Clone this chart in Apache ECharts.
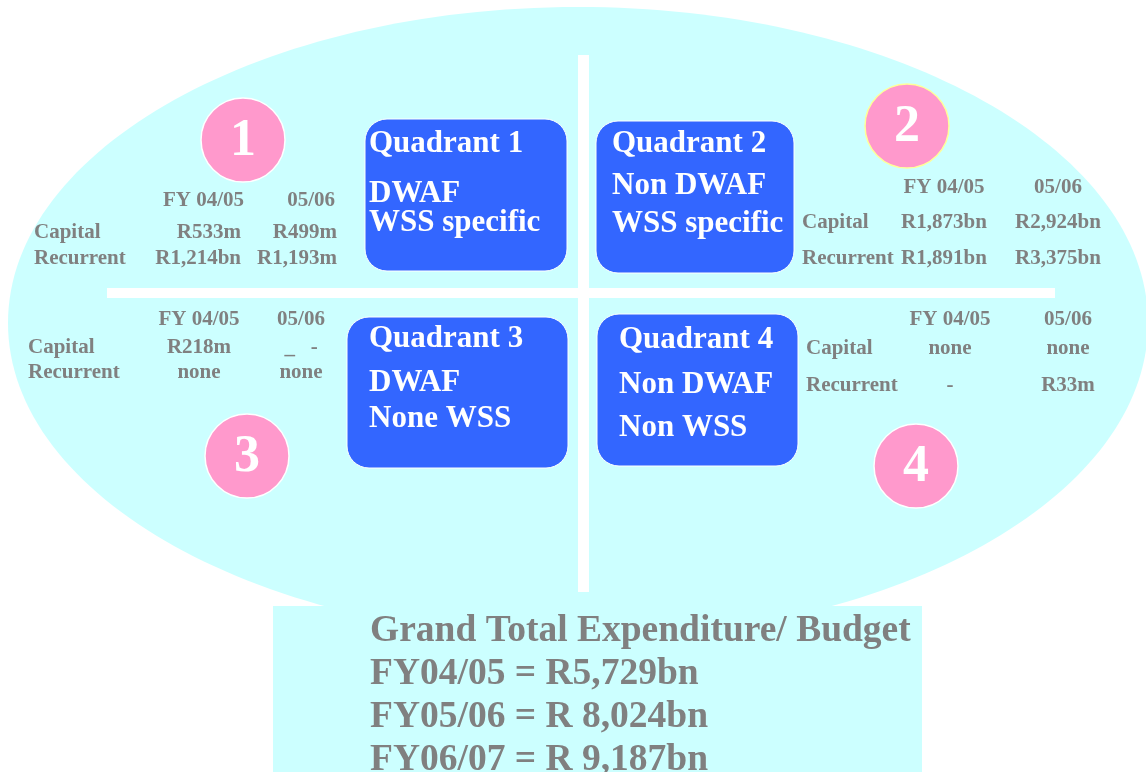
<!DOCTYPE html>
<html>
<head>
<meta charset="utf-8">
<script src="https://cdn.jsdelivr.net/npm/echarts@6/dist/echarts.min.js"></script>
<style>
  html, body { margin: 0; padding: 0; background: #fff; }
  #chart { width: 1146px; height: 772px; }
</style>
</head>
<body>
<div id="chart"></div>
<script>
// diagram content
const quadrantNumbers = ['1', '2', '3', '4']
const quadrantTitles = ['Quadrant 1', 'Quadrant 2', 'Quadrant 3', 'Quadrant 4']
const quadrantLines = [
  ['DWAF', 'WSS specific'],
  ['Non DWAF', 'WSS specific'],
  ['DWAF', 'None WSS'],
  ['Non DWAF', 'Non WSS']
]
const yearHeaders = ['FY 04/05', '05/06']
const rowNames = ['Capital', 'Recurrent']
const capitalValues = [
  ['R533m', 'R499m'],
  ['R1,873bn', 'R2,924bn'],
  ['R218m', '_   -'],
  ['none', 'none']
]
const recurrentValues = [
  ['R1,214bn', 'R1,193m'],
  ['R1,891bn', 'R3,375bn'],
  ['none', 'none'],
  ['-', 'R33m']
]
const totalTitle = 'Grand Total Expenditure/ Budget'
const totalYears = ['FY04/05', 'FY05/06', 'FY06/07']
const totalValues = ['R5,729bn', 'R 8,024bn', 'R 9,187bn']

const FONT = '"Liberation Serif", "Times New Roman", serif'
const GREY = '#808080'
const CYAN = '#ccffff'
const BLUE = '#3366ff'
const PINK = '#ff99cc'

// layout per quadrant
const circles = [
  { cx: 243, cy: 140, stroke: '#ffffff' },
  { cx: 907, cy: 126, stroke: '#ffff99' },
  { cx: 247, cy: 456, stroke: '#ffffff' },
  { cx: 916, cy: 466, stroke: '#ffffff' }
]
const boxes = [
  { x: 365, y: 119, w: 202, h: 152, tx: 369, ty: [142, 192, 221] },
  { x: 596, y: 121, w: 198, h: 152, tx: 612, ty: [142, 184, 222] },
  { x: 347, y: 317, w: 221, h: 151, tx: 369, ty: [337, 381, 417] },
  { x: 597, y: 314, w: 201, h: 152, tx: 619, ty: [338, 383, 426] }
]
const tables = [
  { lx: 34, cols: [241, 337], align: 'right', hy: 199, ry: [231, 257] },
  { lx: 802, cols: [944, 1058], align: 'center', hy: 186, ry: [221, 257] },
  { lx: 28, cols: [199, 301], align: 'center', hy: 318, ry: [346, 371] },
  { lx: 806, cols: [950, 1068], align: 'center', hy: 318, ry: [347, 384] }
]

function txt(text, x, y, size, color, align) {
  return {
    type: 'text',
    x: x,
    y: y + 2,
    z: 10,
    style: {
      text: text,
      fill: color,
      font: 'bold ' + size + 'px ' + FONT,
      textAlign: align || 'left',
      textVerticalAlign: 'middle'
    }
  }
}

const elements = []

// background ellipse
elements.push({
  type: 'ellipse',
  shape: { cx: 578, cy: 323, rx: 570, ry: 316 },
  style: { fill: CYAN },
  z: 1
})
// white cross
elements.push({ type: 'rect', shape: { x: 578, y: 55, width: 11, height: 537 }, style: { fill: '#fff' }, z: 2 })
elements.push({ type: 'rect', shape: { x: 107, y: 288, width: 948, height: 10 }, style: { fill: '#fff' }, z: 2 })
// total box
elements.push({ type: 'rect', shape: { x: 273, y: 606, width: 649, height: 170 }, style: { fill: CYAN }, z: 3 })

quadrantNumbers.forEach((n, i) => {
  const c = circles[i]
  elements.push({
    type: 'circle',
    shape: { cx: c.cx, cy: c.cy, r: 42 },
    style: { fill: PINK, stroke: c.stroke, lineWidth: 1.5 },
    z: 4
  })
  elements.push(txt(n, c.cx, c.cy, 52, '#ffffff', 'center'))

  const b = boxes[i]
  elements.push({
    type: 'rect',
    shape: { x: b.x, y: b.y, width: b.w, height: b.h, r: 22 },
    style: { fill: BLUE, stroke: '#ffffff', lineWidth: 1 },
    z: 4
  })
  const lines = [quadrantTitles[i]].concat(quadrantLines[i])
  lines.forEach((l, j) => elements.push(txt(l, b.tx, b.ty[j], 31, '#ffffff')))

  const t = tables[i]
  yearHeaders.forEach((h, k) => {
    const hx = t.align === 'right' ? t.cols[k] + (k === 0 ? 3 : -2) : t.cols[k]
    elements.push(txt(h, hx, t.hy, 21, GREY, t.align))
  })
  elements.push(txt(rowNames[0], t.lx, t.ry[0], 21, GREY))
  elements.push(txt(rowNames[1], t.lx, t.ry[1], 21, GREY))
  capitalValues[i].forEach((v, k) => elements.push(txt(v, t.cols[k], t.ry[0], 21, GREY, t.align)))
  recurrentValues[i].forEach((v, k) => elements.push(txt(v, t.cols[k], t.ry[1], 21, GREY, t.align)))
})

// grand total
elements.push(txt(totalTitle, 370, 629, 37.5, GREY))
totalYears.forEach((y, i) => {
  elements.push(txt(y + ' = ' + totalValues[i], 370, 672 + i * 43, 37.5, GREY))
})

const chart = echarts.init(document.getElementById('chart'))
chart.setOption({
  backgroundColor: '#ffffff',
  animation: false,
  graphic: { elements: elements }
})
</script>
</body>
</html>
